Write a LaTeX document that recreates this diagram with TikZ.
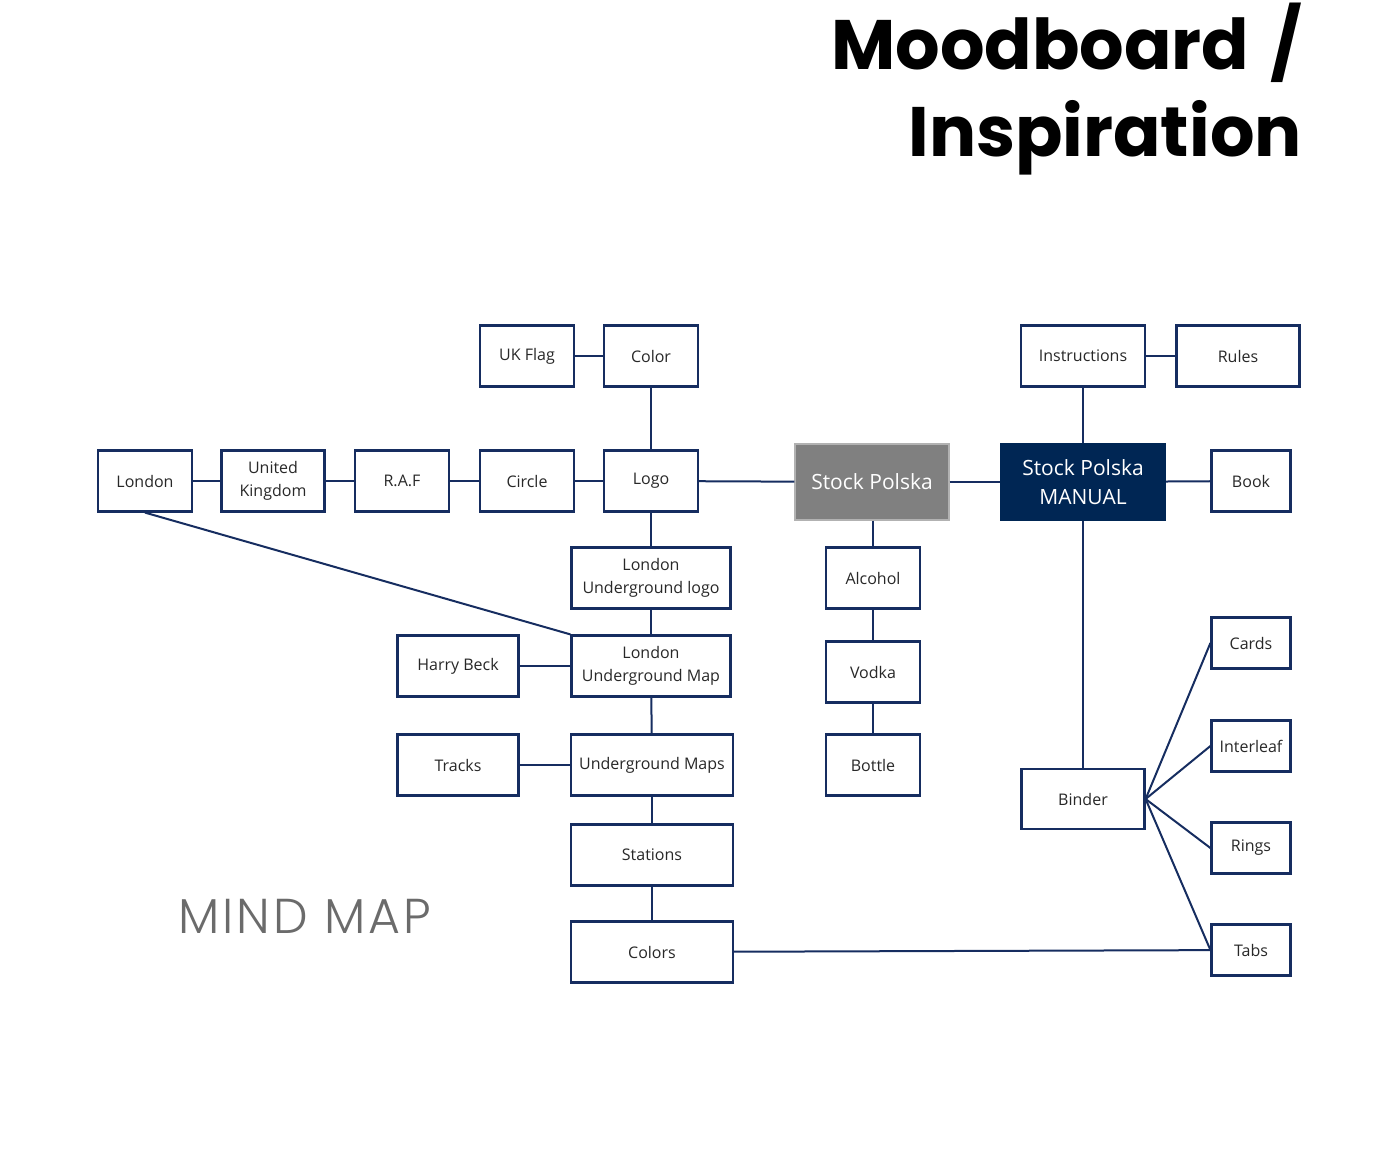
\documentclass[tikz,border=0pt]{standalone}
\usepackage{fontspec}
\setmainfont{Open Sans}
\newfontfamily\ttlfont{Poppins}
\newfontfamily\mapfont[LetterSpace=6]{Poppins Light}
\usetikzlibrary{positioning,calc}
\definecolor{mnavy}{RGB}{22,45,96}
\definecolor{mdark}{RGB}{0,38,84}
\definecolor{mgray}{RGB}{128,128,128}
\definecolor{mtxt}{RGB}{40,40,40}
\tikzset{
  bx/.style={draw=mnavy, line width=2.2pt, fill=white, align=center,
             minimum height=61pt, minimum width=94pt, inner sep=2pt,
             font=\fontsize{16}{23}\selectfont, text=mtxt},
  sbx/.style={bx, minimum height=51pt, minimum width=79pt},
  hub/.style={draw=gray!60, line width=1.2pt, fill=mgray, text=white, align=center,
              minimum height=76pt, font=\fontsize{21}{29}\selectfont},
  hubd/.style={hub, draw=mdark, fill=mdark},
  lnk/.style={mnavy, line width=2pt},
  ttl/.style={anchor=base east, inner sep=0pt,
              font=\ttlfont\bfseries\fontsize{70}{87}\selectfont},
}
\begin{document}
\begin{tikzpicture}[x=1pt,y=-1pt]
  \useasboundingbox (0,0) rectangle (1400,1161);
  % title
  \node[ttl] (ttlA) at (1302,70) {Moodboard\hspace{6pt} /};
  \node[ttl] (ttlB) at (1302,157) {Inspiration};
  \node[anchor=base west, font=\mapfont\fontsize{49}{60}\selectfont, text=black!58, inner sep=0pt] (mind) at (178,933) {MIND MAP};
  % top row
  \node[bx] (ukflag) at (527,356) {UK Flag};
  \node[bx] (color) at (651,356) {Color};
  \node[bx, minimum width=124pt] (instr) at (1083,356) {Instructions};
  \node[bx, minimum width=123pt] (rules) at (1238,356) {Rules};
  % middle row
  \node[bx] (london) at (145,481) {London};
  \node[bx, minimum width=103pt] (uk) at (273,481) {United\\Kingdom};
  \node[bx] (raf) at (402,481) {R.A.F};
  \node[bx] (circle) at (527,481) {Circle};
  \node[bx] (logo) at (651,481) {Logo};
  \node[hub, minimum width=154pt] (stock) at (872,482) {Stock Polska};
  \node[hubd, minimum width=165pt] (manual) at (1083,482) {Stock Polska\\MANUAL};
  \node[bx, minimum width=79pt] (book) at (1251,481) {Book};
  % underground branch
  \node[bx, minimum width=159pt] (lulogo) at (651,578) {London\\Underground logo};
  \node[bx, minimum width=159pt] (lumap) at (651,666) {London\\Underground Map};
  \node[bx, minimum width=121pt] (beck) at (458,666) {Harry Beck};
  \node[bx, minimum width=162pt] (ugmaps) at (652,765) {Underground Maps};
  \node[bx, minimum width=121pt] (tracks) at (458,765) {Tracks};
  \node[bx, minimum width=162pt] (stations) at (652,855) {Stations};
  \node[bx, minimum width=162pt] (colors) at (652,952) {Colors};
  % stock branch
  \node[bx] (alcohol) at (873,578) {Alcohol};
  \node[bx] (vodka) at (873,672) {Vodka};
  \node[bx] (bottle) at (873,765) {Bottle};
  % manual branch
  \node[bx, minimum width=123pt, minimum height=60pt] (binder) at (1083,799) {Binder};
  \node[sbx] (cards) at (1251,643) {Cards};
  \node[sbx] (leaf) at (1251,746) {Interleaf};
  \node[sbx] (rings) at (1251,848) {Rings};
  \node[sbx] (tabs) at (1251,950) {Tabs};
  % links
  \draw[lnk] (ukflag) -- (color);
  \draw[lnk] (color) -- (logo);
  \draw[lnk] (instr) -- (rules);
  \draw[lnk] (instr) -- (manual);
  \draw[lnk] (london) -- (uk);
  \draw[lnk] (uk) -- (raf);
  \draw[lnk] (raf) -- (circle);
  \draw[lnk] (circle) -- (logo);
  \draw[lnk] (logo) -- (stock);
  \draw[lnk] (stock) -- (manual);
  \draw[lnk] (manual) -- (book);
  \draw[lnk] (logo) -- (lulogo);
  \draw[lnk] (lulogo) -- (lumap);
  \draw[lnk] (lumap) -- (ugmaps);
  \draw[lnk] (ugmaps) -- (stations);
  \draw[lnk] (stations) -- (colors);
  \draw[lnk] (beck) -- (lumap);
  \draw[lnk] (tracks) -- (ugmaps);
  \draw[lnk] (london.south) -- (lumap.north west);
  \draw[lnk] (stock.south -| alcohol) -- (alcohol);
  \draw[lnk] (alcohol) -- (vodka);
  \draw[lnk] (vodka) -- (bottle);
  \draw[lnk] (manual) -- (binder);
  \foreach \leaf in {cards,leaf,rings,tabs}
    \draw[lnk] (binder.east) -- (\leaf.west);
  \draw[lnk] (colors) -- (tabs);
\end{tikzpicture}
\end{document}
